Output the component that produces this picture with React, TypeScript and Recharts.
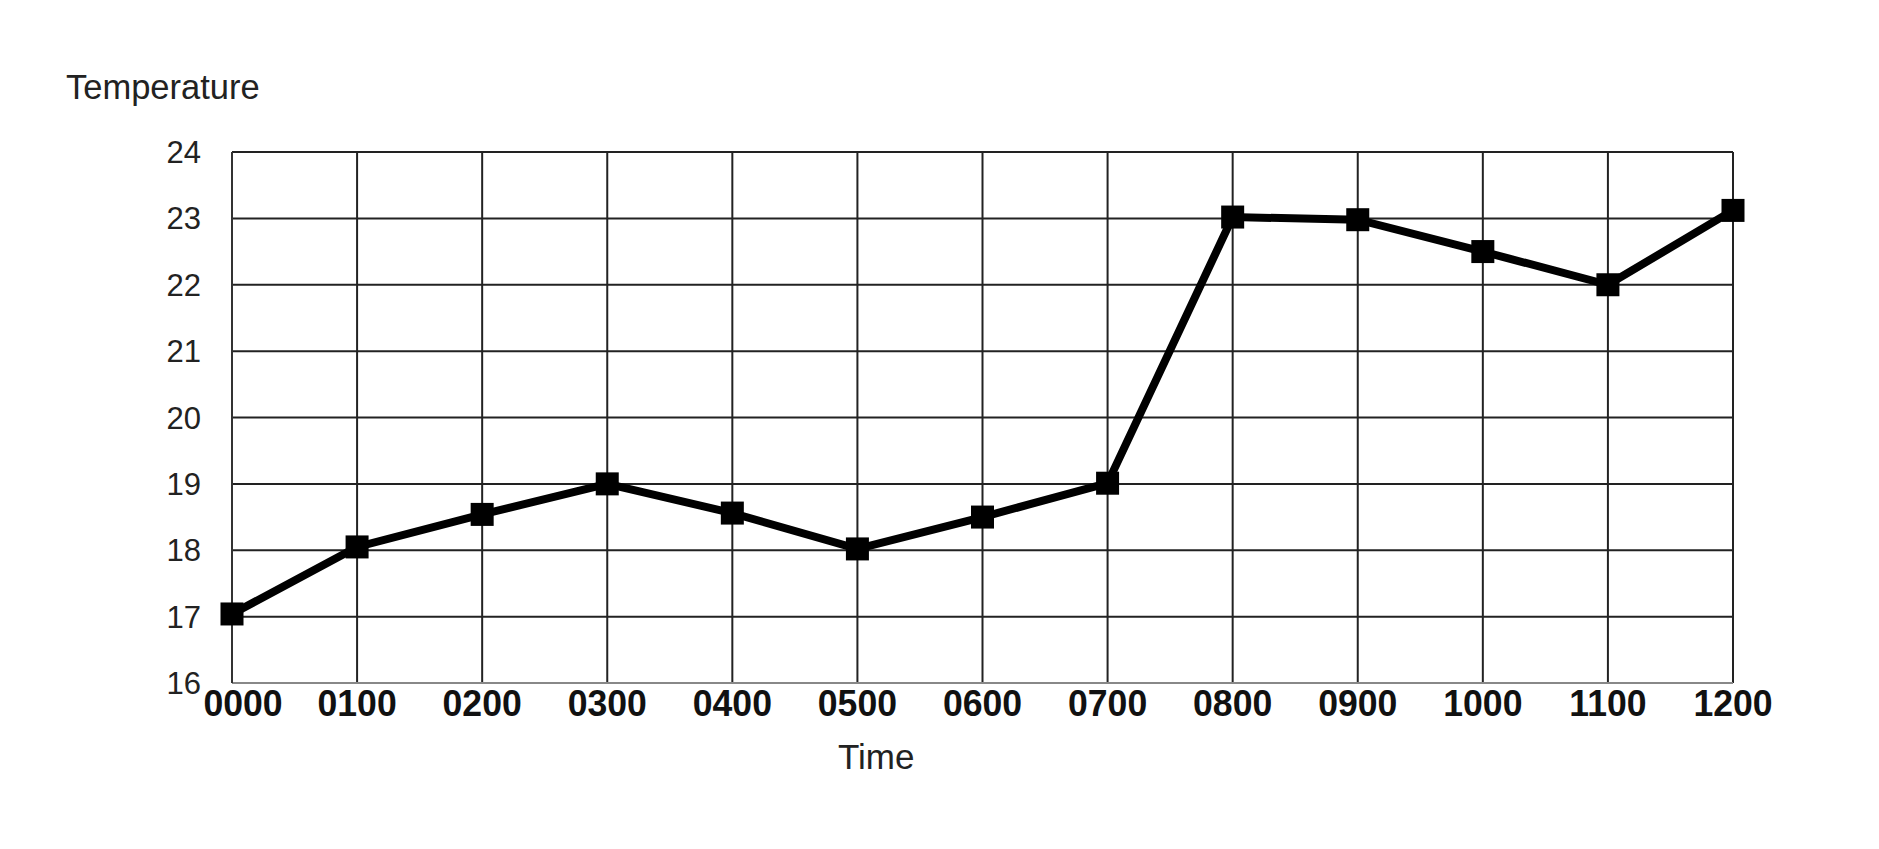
import { LineChart, Line, XAxis, YAxis, CartesianGrid } from 'recharts';

const times = ['0000', '0100', '0200', '0300', '0400', '0500', '0600', '0700', '0800', '0900', '1000', '1100', '1200'];
const temperatures = [17.04, 18.05, 18.54, 19, 18.56, 18.02, 18.5, 19.01, 23.02, 22.98, 22.5, 22, 23.12];
const yTicks = [16, 17, 18, 19, 20, 21, 22, 23, 24];

const data = times.map((time, i) => ({ time, temp: temperatures[i] }));

// square black markers
const SquareDot = (props: any) => {
  const { cx, cy, index } = props;
  if (cx == null || cy == null) return null;
  return <rect key={`dot-${index}`} x={cx - 11.5} y={cy - 11.5} width={23} height={23} fill="#000" />;
};

// slightly condensed bold time labels; first one nudged right of the "16"
const TimeTick = (props: any) => {
  const { x, y, payload, index } = props;
  const shift = index === 0 ? 11 : 0;
  return (
    <g transform={`translate(${x + shift},${y}) scale(0.95,1)`}>
      <text x={0} y={0} dy="0.71em" textAnchor="middle" fill="#111" fontSize={37.5} fontWeight="bold" fontFamily='"Liberation Sans", Arial, sans-serif'>
        {payload.value}
      </text>
    </g>
  );
};

export default function App() {
  return (
    <div style={{ position: 'relative', width: 1863, height: 833, fontFamily: '"Liberation Sans", Arial, sans-serif' }}>
      <div style={{ position: 'absolute', left: 58, top: 60, fontSize: 34.5, color: '#222' }}>Temperature</div>
      <div style={{ position: 'absolute', left: 830, top: 729, fontSize: 35, color: '#222' }}>Time</div>
      <LineChart width={1863} height={833} data={data} margin={{ top: 144, right: 138, bottom: 128, left: 0 }}>
        <CartesianGrid stroke="#222" strokeWidth={2} />
        <XAxis
          dataKey="time"
          scale="point"
          padding={{ left: 0, right: 0 }}
          height={30}
          tickSize={0}
          tickMargin={6}
          interval={0}
          axisLine={{ stroke: '#888', strokeWidth: 2 }}
          tick={<TimeTick />}
        />
        <YAxis
          width={224}
          domain={[16, 24]}
          ticks={yTicks}
          interval={0}
          tickSize={0}
          tickMargin={31}
          axisLine={{ stroke: '#333', strokeWidth: 2 }}
          tick={{ fill: '#222', fontSize: 31 }}
        />
        <Line
          type="linear"
          dataKey="temp"
          stroke="#000"
          strokeWidth={8}
          dot={<SquareDot />}
          activeDot={false}
          isAnimationActive={false}
        />
      </LineChart>
    </div>
  );
}
